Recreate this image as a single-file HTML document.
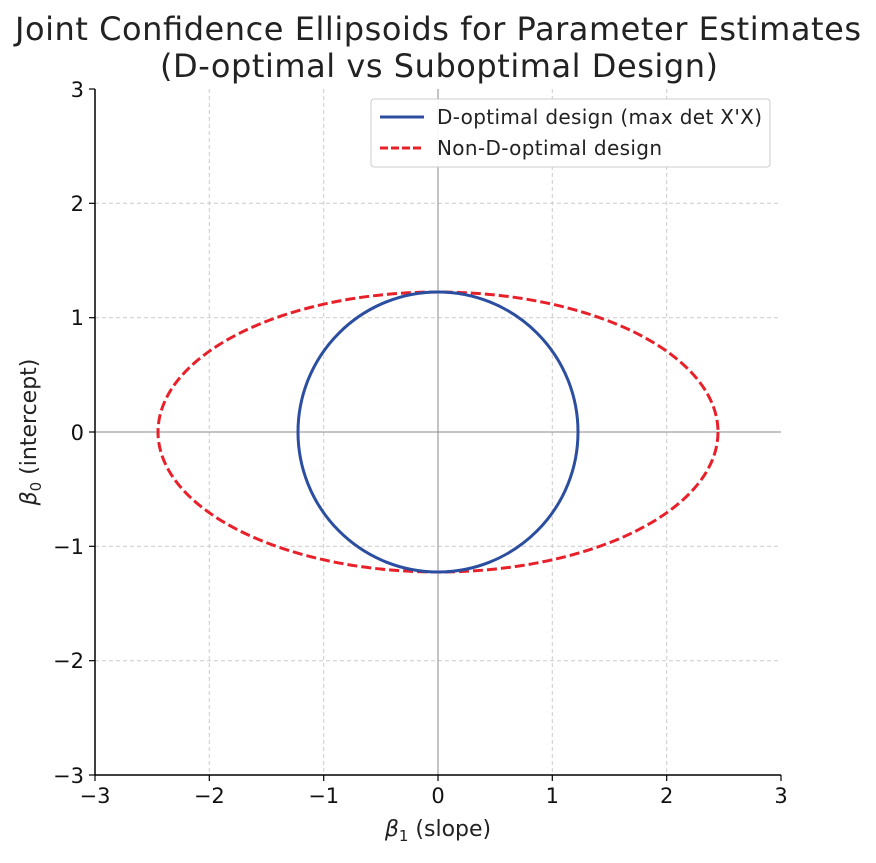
<!DOCTYPE html>
<html><head><style>body{margin:0;background:#fff}</style></head><body>
<svg width="876" height="858" xmlns="http://www.w3.org/2000/svg" font-family="DejaVu Sans, Liberation Sans, sans-serif">
<rect width="876" height="858" fill="#fff"/>
<text x="438" y="40" font-size="32" text-anchor="middle" fill="#222" textLength="846">Joint Confidence Ellipsoids for Parameter Estimates</text>
<text x="439" y="77" font-size="32" text-anchor="middle" fill="#222" textLength="558">(D-optimal vs Suboptimal Design)</text>
<g stroke="#ccc" stroke-dasharray="4,3" stroke-width="1">
<line x1="209.3" y1="89" x2="209.3" y2="775"/><line x1="323.7" y1="89" x2="323.7" y2="775"/><line x1="552.3" y1="89" x2="552.3" y2="775"/><line x1="666.7" y1="89" x2="666.7" y2="775"/>
<line x1="95" y1="203.3" x2="781" y2="203.3"/><line x1="95" y1="317.7" x2="781" y2="317.7"/><line x1="95" y1="546.3" x2="781" y2="546.3"/><line x1="95" y1="660.7" x2="781" y2="660.7"/>
</g>
<line x1="438" y1="89" x2="438" y2="775" stroke="#888" stroke-width="1"/>
<line x1="95" y1="432" x2="781" y2="432" stroke="#888" stroke-width="1"/>
<ellipse cx="438" cy="432" rx="280" ry="140" fill="none" stroke="#e8202a" stroke-width="3" stroke-dasharray="10,4"/>
<circle cx="438" cy="432" r="140" fill="none" stroke="#2b4ea0" stroke-width="3"/>
<line x1="95" y1="89" x2="95" y2="775" stroke="#000" stroke-width="1.5"/>
<line x1="95" y1="775" x2="781" y2="775" stroke="#000" stroke-width="1.5"/>
<g stroke="#000" stroke-width="1.2">
<line x1="95" y1="775" x2="95" y2="781"/><line x1="209.3" y1="775" x2="209.3" y2="781"/><line x1="323.7" y1="775" x2="323.7" y2="781"/><line x1="438" y1="775" x2="438" y2="781"/><line x1="552.3" y1="775" x2="552.3" y2="781"/><line x1="666.7" y1="775" x2="666.7" y2="781"/><line x1="781" y1="775" x2="781" y2="781"/>
<line x1="89" y1="89" x2="95" y2="89"/><line x1="89" y1="203.3" x2="95" y2="203.3"/><line x1="89" y1="317.7" x2="95" y2="317.7"/><line x1="89" y1="432" x2="95" y2="432"/><line x1="89" y1="546.3" x2="95" y2="546.3"/><line x1="89" y1="660.7" x2="95" y2="660.7"/><line x1="89" y1="775" x2="95" y2="775"/>
</g>
<g font-size="21" fill="#111" text-anchor="middle">
<text x="95" y="803">−3</text><text x="209.3" y="803">−2</text><text x="323.7" y="803">−1</text><text x="438" y="803">0</text><text x="552.3" y="803">1</text><text x="666.7" y="803">2</text><text x="781" y="803">3</text>
</g>
<g font-size="21" fill="#111" text-anchor="end">
<text x="84" y="97">3</text><text x="84" y="211">2</text><text x="84" y="325">1</text><text x="84" y="440">0</text><text x="84" y="554">−1</text><text x="84" y="668">−2</text><text x="84" y="783">−3</text>
</g>
<text x="438" y="836" font-size="22" text-anchor="middle" fill="#222"><tspan font-style="italic">β</tspan><tspan font-size="15" dy="5">1</tspan><tspan dy="-5"> (slope)</tspan></text>
<text transform="translate(36,432) rotate(-90)" font-size="22" text-anchor="middle" fill="#222"><tspan font-style="italic">β</tspan><tspan font-size="15" dy="5">0</tspan><tspan dy="-5"> (intercept)</tspan></text>
<rect x="371" y="99" width="399" height="68" rx="3" fill="#fff" fill-opacity="0.9" stroke="#ccc"/>
<line x1="380" y1="117" x2="424" y2="117" stroke="#2b4ea0" stroke-width="3"/>
<line x1="380" y1="148" x2="424" y2="148" stroke="#e8202a" stroke-width="3" stroke-dasharray="8,3"/>
<text x="437" y="124" font-size="20" fill="#222" textLength="325">D-optimal design (max det X'X)</text>
<text x="437" y="155" font-size="20" fill="#222" textLength="225">Non-D-optimal design</text>
</svg>
</body></html>
